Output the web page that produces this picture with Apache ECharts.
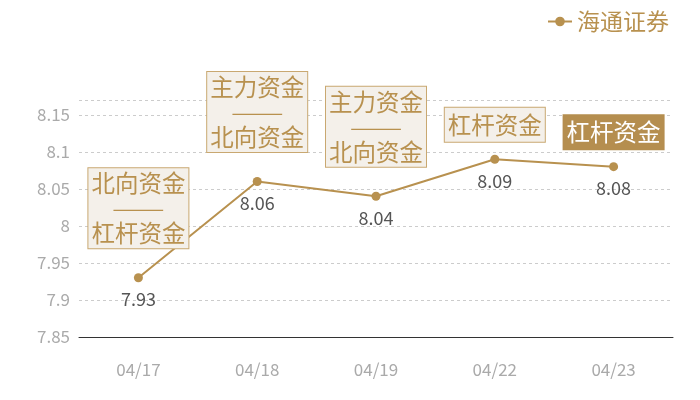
<!DOCTYPE html>
<html><head><meta charset="utf-8">
<script src="https://cdn.jsdelivr.net/npm/echarts@6/dist/echarts.min.js"></script>
<style>html,body{margin:0;padding:0;background:#fff}#c{width:700px;height:400px}</style>
</head><body><div id="c"></div>
<script>
const categories = ['04/17','04/18','04/19','04/22','04/23'];
const values = [7.93, 8.06, 8.04, 8.09, 8.08];
const seriesName = '海通证券';
const annotations = [['北向资金','杠杆资金'],['主力资金','北向资金'],['主力资金','北向资金'],['杠杆资金'],['杠杆资金']];
const highlighted = [false,false,false,false,true];
const yTicks = {min: 7.85, max: 8.17, interval: 0.05};

const gold = '#b8914f';
const font = '"Noto Sans CJK SC","Noto Sans",sans-serif';

const annoData = values.map((v,i)=>{
  const a = annotations[i];
  const hi = highlighted[i];
  const txt = a.length === 2 ? `{t|${a[0]}}\n{d|———}\n{t|${a[1]}}` : `{t|${a[0]}}`;
  return {
    value: v,
    label: {
      show: true,
      position: 'top',
      distance: a.length === 2 ? 29 : 17,
      formatter: txt,
      backgroundColor: hi ? '#b58e4f' : '#f4f0ea',
      borderColor: hi ? '#b58e4f' : '#c9a871',
      borderWidth: 1,
      padding: a.length === 2 ? [1,3,1,3] : [3,3,3,3],
      rich: {
        t: {fontSize: 23.5, lineHeight: 28, color: hi ? '#fff' : '#b8914f', fontFamily: font},
        d: {fontSize: 21, lineHeight: 22, color: '#b8914f', fontFamily: font}
      }
    }
  };
});

const chart = echarts.init(document.getElementById('c'));
chart.setOption({
  animation: false,
  legend: {
    data: [seriesName],
    right: 26, top: 5,
    itemWidth: 24, itemHeight: 12,
    itemGap: 8,
    textStyle: {color: '#b8914f', fontSize: 23, fontFamily: font}
  },
  grid: {left: 79, right: 27, top: 100, bottom: 63},
  xAxis: {
    type: 'category',
    data: categories,
    axisLine: {lineStyle: {color: '#333', width: 1}},
    axisTick: {show: false},
    axisLabel: {color: '#aaa', fontSize: 17, margin: 24, fontFamily: font}
  },
  yAxis: {
    type: 'value',
    min: yTicks.min, max: yTicks.max, interval: yTicks.interval,
    axisLine: {show: false},
    axisTick: {show: false},
    axisLabel: {color: '#aaa', fontSize: 17, margin: 9, showMaxLabel: false, fontFamily: font},
    splitLine: {lineStyle: {type: [3,3], color: '#ccc'}}
  },
  series: [
    {
      name: seriesName,
      type: 'line',
      data: values,
      symbol: 'circle',
      symbolSize: 9,
      lineStyle: {color: gold, width: 2},
      itemStyle: {color: gold},
      label: {show: true, position: 'bottom', distance: 8, color: '#555', fontSize: 18, fontFamily: font}
    },
    {
      name: 'anno',
      type: 'scatter',
      data: annoData,
      symbolSize: 1,
      itemStyle: {color: 'rgba(0,0,0,0)', opacity: 1},
      silent: true,
      z: 5
    }
  ]
});
</script></body></html>
